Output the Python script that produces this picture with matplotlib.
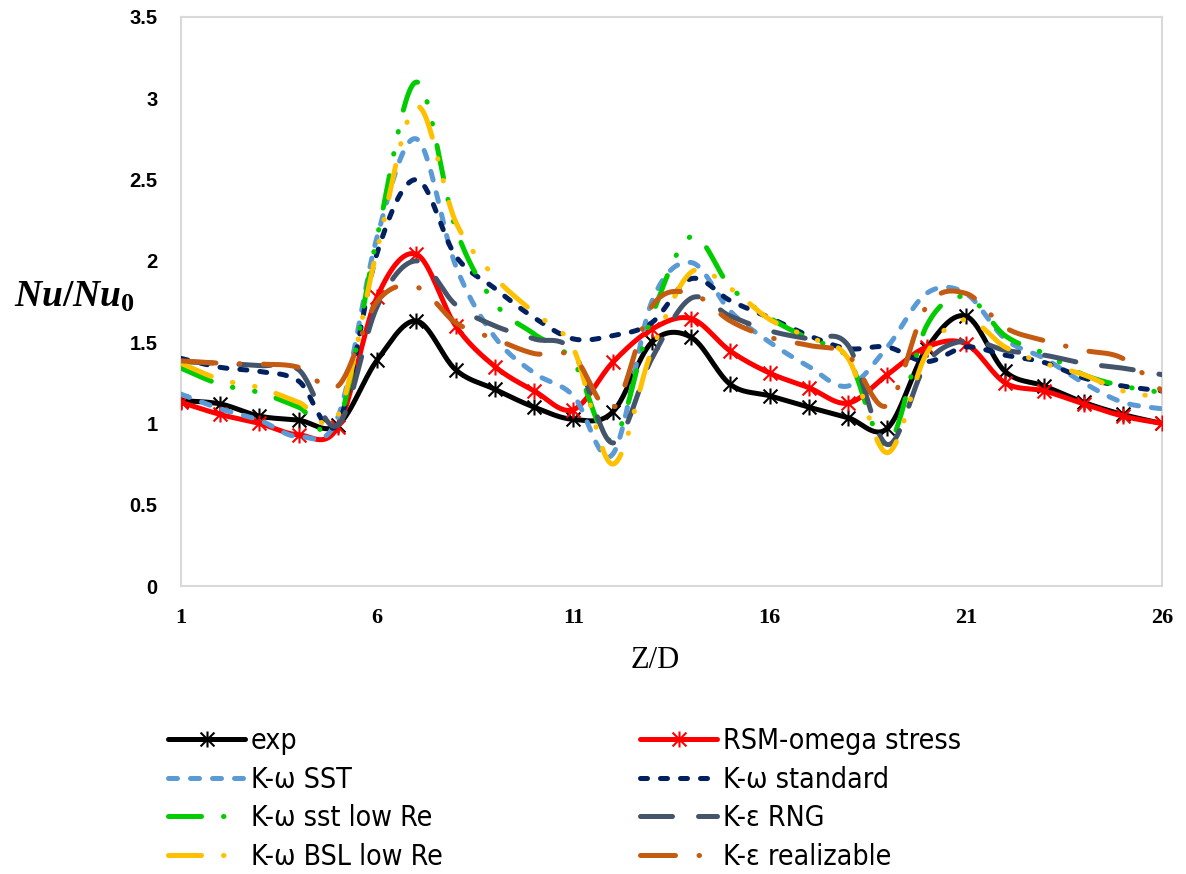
import numpy as np
import matplotlib
matplotlib.use("Agg")
import matplotlib.pyplot as plt
from matplotlib.lines import Line2D
from matplotlib.path import Path
import matplotlib.font_manager as fm
from matplotlib.font_manager import FontProperties

# ---------------- data ----------------
zd = list(range(1, 27))
xtick_vals = [1, 6, 11, 16, 21, 26]
xtick_labels = ["1", "6", "11", "16", "21", "26"]
ytick_vals = [0, 0.5, 1, 1.5, 2, 2.5, 3, 3.5]
ytick_labels = ["0", "0.5", "1", "1.5", "2", "2.5", "3", "3.5"]

exp = [1.14, 1.12, 1.045, 1.02, 0.99, 1.39, 1.63, 1.33, 1.21, 1.10, 1.025, 1.07, 1.50,
       1.53, 1.24, 1.17, 1.10, 1.035, 0.97, 1.46, 1.66, 1.32, 1.23, 1.13, 1.055, 1.0]
rsm = [1.13, 1.055, 1.0, 0.93, 0.98, 1.78, 2.04, 1.60, 1.35, 1.20, 1.085, 1.375, 1.58,
       1.645, 1.445, 1.31, 1.22, 1.125, 1.30, 1.47, 1.49, 1.25, 1.20, 1.12, 1.045, 1.0]
sst = [1.18, 1.09, 1.02, 0.92, 1.04, 2.15, 2.75, 1.97, 1.53, 1.31, 1.17, 0.81, 1.75,
       1.99, 1.69, 1.50, 1.35, 1.23, 1.47, 1.80, 1.80, 1.52, 1.40, 1.25, 1.13, 1.09]
std = [1.40, 1.345, 1.32, 1.26, 1.0, 2.05, 2.5, 2.03, 1.83, 1.65, 1.52, 1.54, 1.62,
       1.89, 1.755, 1.65, 1.54, 1.46, 1.47, 1.38, 1.47, 1.42, 1.375, 1.28, 1.23, 1.20]
sst_low = [1.34, 1.24, 1.19, 1.10, 1.0, 2.15, 3.1, 2.2, 1.74, 1.55, 1.38, 0.90, 1.66,
           2.15, 1.84, 1.65, 1.52, 1.40, 0.87, 1.60, 1.78, 1.54, 1.43, 1.30, 1.23, 1.19]
rng = [1.38, 1.37, 1.355, 1.33, 0.99, 1.72, 2.0, 1.73, 1.60, 1.52, 1.44, 0.88, 1.40,
       1.77, 1.66, 1.57, 1.52, 1.48, 0.87, 1.37, 1.51, 1.45, 1.42, 1.37, 1.34, 1.30]
bsl_low = [1.37, 1.27, 1.22, 1.13, 1.05, 2.07, 2.95, 2.24, 1.90, 1.68, 1.46, 0.75, 1.45,
           1.93, 1.83, 1.64, 1.53, 1.40, 0.82, 1.43, 1.64, 1.47, 1.37, 1.30, 1.20, 1.16]
real = [1.385, 1.37, 1.365, 1.345, 1.23, 1.75, 1.84, 1.62, 1.52, 1.43, 1.41, 1.09, 1.72,
        1.80, 1.63, 1.53, 1.48, 1.42, 1.11, 1.72, 1.80, 1.59, 1.51, 1.45, 1.40, 1.20]

labels = ["exp", "RSM-omega stress", "K-\u03c9 SST", "K-\u03c9 standard",
          "K-\u03c9 sst low Re", "K-\u03b5 RNG", "K-\u03c9 BSL low Re", "K-\u03b5 realizable"]
series = [exp, rsm, sst, std, sst_low, rng, bsl_low, real]
colors = ["#000000", "#ff0000", "#5b9bd5", "#002060", "#00cc00", "#44546a", "#ffc000", "#c55a11"]

# ---------------- styles ----------------
PX = 0.72  # px -> pt at dpi 100
dashes = [None, None,
          [9 * PX, 13 * PX],
          [7 * PX, 13 * PX],
          [33 * PX, 22 * PX, 0.5 * PX, 22 * PX, 0.5 * PX, 22 * PX],
          [32 * PX, 26 * PX],
          [33 * PX, 22 * PX, 0.5 * PX, 22 * PX, 0.5 * PX, 22 * PX],
          [35 * PX, 23.5 * PX, 0.5 * PX, 23.5 * PX]]
star = Path([(-1, -1), (1, 1), (-1, 1), (1, -1), (0, -1.15), (0, 1.15)],
            [Path.MOVETO, Path.LINETO, Path.MOVETO, Path.LINETO, Path.MOVETO, Path.LINETO])
markers = [star, star, None, None, None, None, None, None]
MS = 11.5

plt.rcParams["lines.scale_dashes"] = False
plt.rcParams["mathtext.fontset"] = "custom"
plt.rcParams["mathtext.it"] = "Liberation Serif:italic:bold"
plt.rcParams["mathtext.rm"] = "Liberation Serif:bold"
plt.rcParams["mathtext.bf"] = "Liberation Serif:bold"

# pick a narrow sans font for the legend if one is installed
ttf = fm.fontManager.ttflist
names = {f.name for f in ttf}
if "Liberation Sans Narrow" in names:
    legend_prop = FontProperties(family="Liberation Sans Narrow")
elif any(f.name == "DejaVu Sans" and f.stretch == "condensed" for f in ttf):
    legend_prop = FontProperties(family="DejaVu Sans", stretch="condensed")
else:
    legend_prop = FontProperties(family="Liberation Sans")


def smooth(y, n=30):
    x = np.arange(1, len(y) + 1, dtype=float)
    y = np.asarray(y, dtype=float)
    N = len(y)
    xs, ys = [], []
    for i in range(N - 1):
        x0, y0 = (x[i - 1], y[i - 1]) if i > 0 else (x[i], y[i])
        x1, y1 = x[i], y[i]
        x2, y2 = x[i + 1], y[i + 1]
        x3, y3 = (x[i + 2], y[i + 2]) if i + 2 < N else (x[i + 1], y[i + 1])
        bx = [x1, x1 + (x2 - x0) / 6, x2 - (x3 - x1) / 6, x2]
        by = [y1, y1 + (y2 - y0) / 6, y2 - (y3 - y1) / 6, y2]
        t = np.linspace(0, 1, n, endpoint=(i == N - 2))
        c = [(1 - t) ** 3, 3 * (1 - t) ** 2 * t, 3 * (1 - t) * t ** 2, t ** 3]
        xs.append(sum(ci * b for ci, b in zip(c, bx)))
        ys.append(sum(ci * b for ci, b in zip(c, by)))
    return np.concatenate(xs), np.concatenate(ys)


fig = plt.figure(figsize=(11.86, 8.74), dpi=100)
ax = fig.add_axes([181 / 1186, 1 - 586 / 874, (1162 - 181) / 1186, (586 - 17) / 874])

# size the legend font so that "RSM-omega stress" is ~238 px wide
renderer = fig.canvas.get_renderer()
probe = fig.text(0, 0, "RSM-omega stress", fontproperties=legend_prop, fontsize=22)
w = probe.get_window_extent(renderer).width
probe.remove()
leg_size = 22 * 238.0 / w
legend_prop.set_size(leg_size)
leg_px = leg_size * 100 / 72.0

LW = 3.6
handles = []
for k, (yv, col, lab) in enumerate(zip(series, colors, labels)):
    sx, sy = smooth(yv)
    kw = dict(color=col, lw=LW, solid_capstyle="round", dash_capstyle="round", zorder=2 + k)
    if dashes[k] is not None:
        kw["dashes"] = dashes[k]
    ax.plot(sx, sy, **kw)
    if markers[k] is not None:
        ax.plot(zd, yv, ls="none", marker=markers[k], ms=MS, mew=1.5, mec=col, mfc="none",
                zorder=2 + k)
    hk = dict(color=col, lw=LW, solid_capstyle="round", dash_capstyle="round")
    if dashes[k] is not None:
        hk["dashes"] = dashes[k]
    if markers[k] is not None:
        hk.update(marker=markers[k], ms=MS, mew=1.5, mec=col, mfc="none")
    handles.append(Line2D([], [], label=lab, **hk))

ax.set_xlim(1, 26)
ax.set_ylim(0, 3.5)
ax.set_xticks(xtick_vals)
ax.set_xticklabels(xtick_labels, fontfamily="Liberation Serif", fontweight="bold", fontsize=16)
ax.set_yticks(ytick_vals)
ax.set_yticklabels(ytick_labels, fontfamily="Liberation Sans", fontweight="bold", fontsize=14.5)
ax.tick_params(axis="x", length=0, pad=16)
ax.tick_params(axis="y", length=0, pad=17)
for s in ax.spines.values():
    s.set_color("#d9d9d9")
    s.set_linewidth(1.5)

fig.text(655 / 1186, 1 - 661 / 874, "Z/D", fontfamily="Liberation Serif", fontsize=22,
         ha="center", va="center")
fig.text(74 / 1186, 1 - 297 / 874, r"$Nu/Nu_0$", fontsize=27, ha="center", va="center")

# legend: two columns, rows ~38.7 px apart
probe = fig.text(0, 0, "Kg", fontproperties=legend_prop)
th = probe.get_window_extent(renderer).height
probe.remove()
spacing = (38.7 - th) / leg_px
top_px = 741 - th / 2.0
order1 = [0, 2, 4, 6]
order2 = [1, 3, 5, 7]
common = dict(frameon=False, borderpad=0, borderaxespad=0, handlelength=77.0 / leg_px,
              handletextpad=6.0 / leg_px, labelspacing=spacing, prop=legend_prop,
              loc="upper left", numpoints=1)
fig.legend([handles[i] for i in order1], [labels[i] for i in order1],
           bbox_to_anchor=(168 / 1186, 1 - top_px / 874), **common)
fig.legend([handles[i] for i in order2], [labels[i] for i in order2],
           bbox_to_anchor=(640 / 1186, 1 - top_px / 874), **common)

fig.savefig("out.png", dpi=100)
